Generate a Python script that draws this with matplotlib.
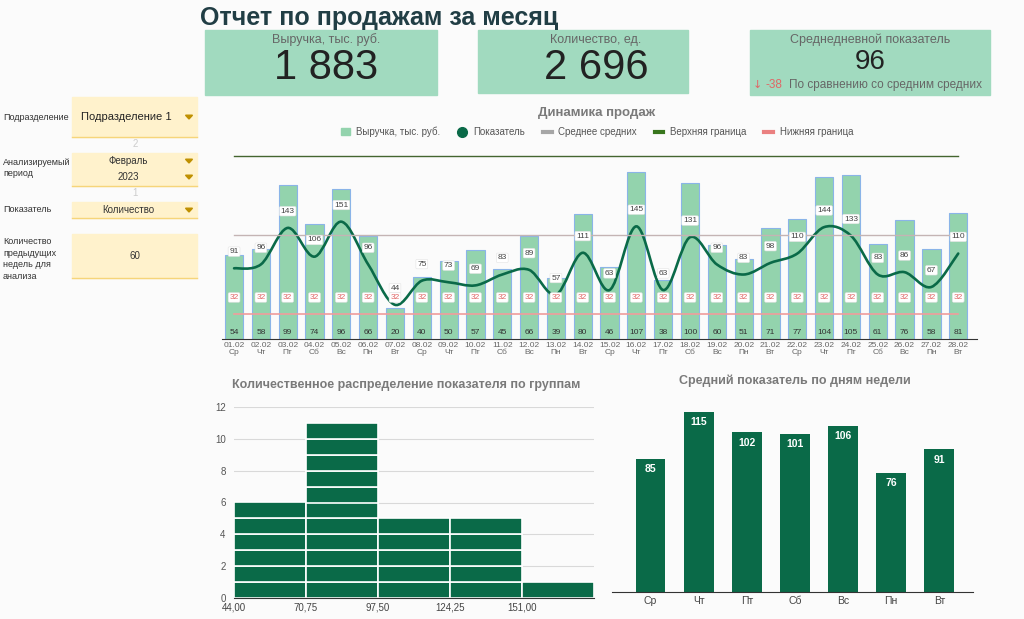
import numpy as np
import matplotlib.pyplot as plt
from matplotlib.path import Path
from matplotlib.patches import PathPatch, Rectangle, Polygon, Patch
from matplotlib.lines import Line2D

plt.rcParams['font.family'] = ['Liberation Sans', 'DejaVu Sans']

W, H = 1024, 619

# --- data ---
dates = ['01.02', '02.02', '03.02', '04.02', '05.02', '06.02', '07.02',
         '08.02', '09.02', '10.02', '11.02', '12.02', '13.02', '14.02',
         '15.02', '16.02', '17.02', '18.02', '19.02', '20.02', '21.02',
         '22.02', '23.02', '24.02', '25.02', '26.02', '27.02', '28.02']
days = ['Ср', 'Чт', 'Пт', 'Сб', 'Вс', 'Пн', 'Вт',
        'Ср', 'Чт', 'Пт', 'Сб', 'Вс', 'Пн', 'Вт',
        'Ср', 'Чт', 'Пт', 'Сб', 'Вс', 'Пн', 'Вт',
        'Ср', 'Чт', 'Пт', 'Сб', 'Вс', 'Пн', 'Вт']
revenue = [54, 58, 99, 74, 96, 66, 20, 40, 50, 57, 45, 66, 39, 80,
           46, 107, 38, 100, 60, 51, 71, 77, 104, 105, 61, 76, 58, 81]
quantity = [91, 96, 143, 106, 151, 96, 44, 75, 73, 69, 83, 89, 57, 111,
            63, 145, 63, 131, 96, 83, 98, 110, 144, 133, 83, 86, 67, 110]
mean_of_means = 134
upper_bound = 235
lower_bound = 32

hist_edges = [44.0, 70.75, 97.5, 124.25, 151.0, 177.75]
hist_counts = [6, 11, 5, 5, 1]

week_days = ['Ср', 'Чт', 'Пт', 'Сб', 'Вс', 'Пн', 'Вт']
week_avg = [85, 115, 102, 101, 106, 76, 91]

card_green = '#a1dabf'
dark_green = '#0a6a48'
bar_green = '#93d3ad'
yellow = '#fff2cc'
title_gray = '#7a7a7a'


def box(x0, y0, x1, y1):
    # pixel box (top-left origin) -> figure fraction
    return [x0 / W, 1 - y1 / H, (x1 - x0) / W, (y1 - y0) / H]


def smooth_path(xs, ys, k=1 / 6):
    verts = [(xs[0], ys[0])]
    codes = [Path.MOVETO]
    n = len(xs)
    for i in range(n - 1):
        i0, i3 = max(i - 1, 0), min(i + 2, n - 1)
        x0, y0 = xs[i0], ys[i0]
        x1, y1 = xs[i], ys[i]
        x2, y2 = xs[i + 1], ys[i + 1]
        x3, y3 = xs[i3], ys[i3]
        verts += [(x1 + (x2 - x0) * k, y1 + (y2 - y0) * k),
                  (x2 - (x3 - x1) * k, y2 - (y3 - y1) * k),
                  (x2, y2)]
        codes += [Path.CURVE4] * 3
    return Path(verts, codes)


fig = plt.figure(figsize=(W / 100, H / 100), dpi=100, facecolor='#fbfbfb')

# background layer in pixel coordinates
bg = fig.add_axes([0, 0, 1, 1])
bg.set_xlim(0, W)
bg.set_ylim(H, 0)
bg.axis('off')

bg.text(200, 18, 'Отчет по продажам за месяц', fontsize=18, fontweight='bold',
        color='#213e45', ha='left', va='center')

# KPI cards
bg.add_patch(Rectangle((205, 30), 232, 65, color=card_green))
bg.text(326, 40, 'Выручка, тыс. руб.', fontsize=9, color='#666666', ha='center', va='center')
bg.text(326, 68, '1 883', fontsize=30, color='#222222', ha='center', va='center')

bg.add_patch(Rectangle((478, 30), 210, 63, color=card_green))
bg.text(596, 40, 'Количество, ед.', fontsize=9, color='#666666', ha='center', va='center')
bg.text(596, 68, '2 696', fontsize=30, color='#222222', ha='center', va='center')

bg.add_patch(Rectangle((750, 30), 240, 65, color=card_green))
bg.text(870, 40, 'Среднедневной показатель', fontsize=9, color='#666666', ha='center', va='center')
bg.text(870, 62, '96', fontsize=20, color='#222222', ha='center', va='center')
bg.text(753, 85, '↓', fontsize=8, color='#e06666', ha='left', va='center',
        family='DejaVu Sans')
bg.text(765, 85, '-38', fontsize=8.5, color='#e06666', ha='left', va='center')
bg.text(789, 85, 'По сравнению со средним средних', fontsize=8.5, color='#666666',
        ha='left', va='center')

# filter panel
def tri(x, y):
    bg.add_patch(Polygon([(x - 3.5, y - 1.8), (x + 3.5, y - 1.8), (x, y + 2)],
                         color='#bf9000'))


def ybox(y0, y1):
    bg.add_patch(Rectangle((72, y0), 125, y1 - y0, color=yellow))
    bg.plot([72, 197], [y1, y1], color='#f6d57a', lw=1)


ybox(97, 137)
bg.text(3, 117, 'Подразделение', fontsize=6.5, color='#333333', va='center')
bg.text(81, 117, 'Подразделение 1', fontsize=8, color='#222222', va='center')
tri(189, 117)
bg.text(135, 144, '2', fontsize=7, color='#cccccc', ha='center', va='center')

ybox(153, 186)
bg.text(3, 168, 'Анализируемый\nпериод', fontsize=6.5, color='#333333', va='center',
        linespacing=1.3)
bg.text(128, 161, 'Февраль', fontsize=7, color='#333333', ha='center', va='center')
bg.text(128, 177, '2023', fontsize=7, color='#333333', ha='center', va='center')
tri(189, 161)
tri(189, 177)
bg.text(135, 193, '1', fontsize=7, color='#cccccc', ha='center', va='center')

ybox(202, 218)
bg.text(3, 210, 'Показатель', fontsize=6.5, color='#333333', va='center')
bg.text(128, 210, 'Количество', fontsize=7, color='#333333', ha='center', va='center')
tri(189, 210)

ybox(234, 278)
bg.text(3, 259, 'Количество\nпредыдущих\nнедель для\nанализа', fontsize=6.5,
        color='#333333', va='center', linespacing=1.35)
bg.text(135, 256, '60', fontsize=7, color='#333333', ha='center', va='center')

# --- main chart ---
x = np.arange(len(dates))
ax = fig.add_axes(box(222, 144, 977, 339))
ax.set_facecolor('none')
ax.bar(x, revenue, width=0.68, color=bar_green, edgecolor='#8ab4e8', linewidth=0.8)
ax.set_xlim(-0.45, 27.7)
ax.set_ylim(0, 125)
for s in ['top', 'left', 'right']:
    ax.spines[s].set_visible(False)
ax.spines['bottom'].set_color('#333333')
ax.set_yticks([])
ax.set_xticks(x)
ax.set_xticklabels([f'{d}\n{w}' for d, w in zip(dates, days)], fontsize=6,
                   color='#666666', linespacing=1.0)
ax.tick_params(axis='x', length=0, pad=2)
for i, v in enumerate(revenue):
    ax.annotate(str(v), (i, 0), xytext=(0, 4.5), textcoords='offset points',
                ha='center', va='center', fontsize=6, color='#333333')

ax2 = ax.twinx()
ax2.set_ylim(0, 251)
ax2.axis('off')
ax2.plot([x[0], x[-1]], [mean_of_means] * 2, color='#c4b4b4', lw=1)
ax2.plot([x[0], x[-1]], [upper_bound] * 2, color='#44652f', lw=1)
ax2.plot([x[0], x[-1]], [lower_bound] * 2, color='#f19c9c', lw=1.2)
ax2.add_patch(PathPatch(smooth_path(x, quantity), fill=False, edgecolor=dark_green,
                        lw=1.9, capstyle='round'))
label_box = dict(boxstyle='round,pad=0.15', fc='white', ec='#e3e3e3', lw=0.4)
for i, v in enumerate(quantity):
    ax2.annotate(str(v), (i, v), xytext=(0, 12), textcoords='offset points',
                 ha='center', va='center', fontsize=6, color='#444444', bbox=label_box)
    ax2.annotate(str(lower_bound), (i, lower_bound), xytext=(0, 12),
                 textcoords='offset points', ha='center', va='center', fontsize=6,
                 color='#e06666', bbox=label_box)

fig.text(597 / W, 1 - 113 / H, 'Динамика продаж', fontsize=9.5, fontweight='bold',
         color=title_gray, ha='center', va='center')
handles = [Patch(color=bar_green),
           Line2D([], [], ls='none', marker='o', ms=7, color=dark_green),
           Line2D([], [], color='#a6a6a6', lw=3),
           Line2D([], [], color='#38761d', lw=3),
           Line2D([], [], color='#ea8080', lw=3)]
leg = fig.legend(handles, ['Выручка, тыс. руб.', 'Показатель', 'Среднее средних',
                           'Верхняя граница', 'Нижняя граница'],
                 loc='center', bbox_to_anchor=(597 / W, 1 - 132 / H), ncol=5,
                 frameon=False, fontsize=7, handlelength=0.9, handletextpad=0.7,
                 columnspacing=1.8)
for t in leg.get_texts():
    t.set_color('#555555')

# --- histogram ---
hx = fig.add_axes(box(234, 407, 594, 598))
hx.set_facecolor('none')
lefts = hist_edges[:-1]
widths = np.diff(hist_edges)
for level in range(max(hist_counts)):
    sel = [i for i, c in enumerate(hist_counts) if c > level]
    hx.bar([lefts[i] for i in sel], 1, width=[widths[i] for i in sel], bottom=level,
           align='edge', color=dark_green, edgecolor='white', linewidth=1.2)
hx.set_xlim(hist_edges[0], hist_edges[-1])
hx.set_ylim(0, 12)
hx.set_yticks(range(0, 13, 2))
hx.set_xticks(lefts)
hx.set_xticklabels([f'{v:.2f}'.replace('.', ',') for v in lefts])
hx.grid(axis='y', color='#d9d9d9', lw=0.8)
hx.set_axisbelow(True)
for s in ['top', 'left', 'right']:
    hx.spines[s].set_visible(False)
hx.spines['bottom'].set_color('#333333')
hx.tick_params(axis='y', length=0, pad=6, labelsize=7, labelcolor='#555555')
hx.tick_params(axis='x', length=0, pad=3, labelsize=7, labelcolor='#444444')
fig.text(406 / W, 1 - 385 / H, 'Количественное распределение показателя по группам',
         fontsize=9, fontweight='bold', color=title_gray, ha='center', va='center')

# --- weekday averages ---
wx = fig.add_axes(box(612, 404, 973, 592))
wx.set_facecolor('none')
wx.bar(range(len(week_days)), week_avg, width=0.62, color=dark_green)
for i, v in enumerate(week_avg):
    wx.annotate(str(v), (i, v), xytext=(0, -7.5), textcoords='offset points',
                ha='center', va='center', fontsize=7.5, fontweight='bold', color='white')
wx.set_xlim(-0.8, 6.7)
wx.set_ylim(0, 120)
wx.set_yticks([])
wx.set_xticks(range(len(week_days)))
wx.set_xticklabels(week_days)
wx.tick_params(axis='x', length=0, pad=3, labelsize=7.5, labelcolor='#444444')
for s in ['top', 'left', 'right']:
    wx.spines[s].set_visible(False)
wx.spines['bottom'].set_color('#333333')
fig.text(795 / W, 1 - 381 / H, 'Средний показатель по дням недели', fontsize=9,
         fontweight='bold', color=title_gray, ha='center', va='center')

fig.savefig('out.png', dpi=100, facecolor=fig.get_facecolor())
